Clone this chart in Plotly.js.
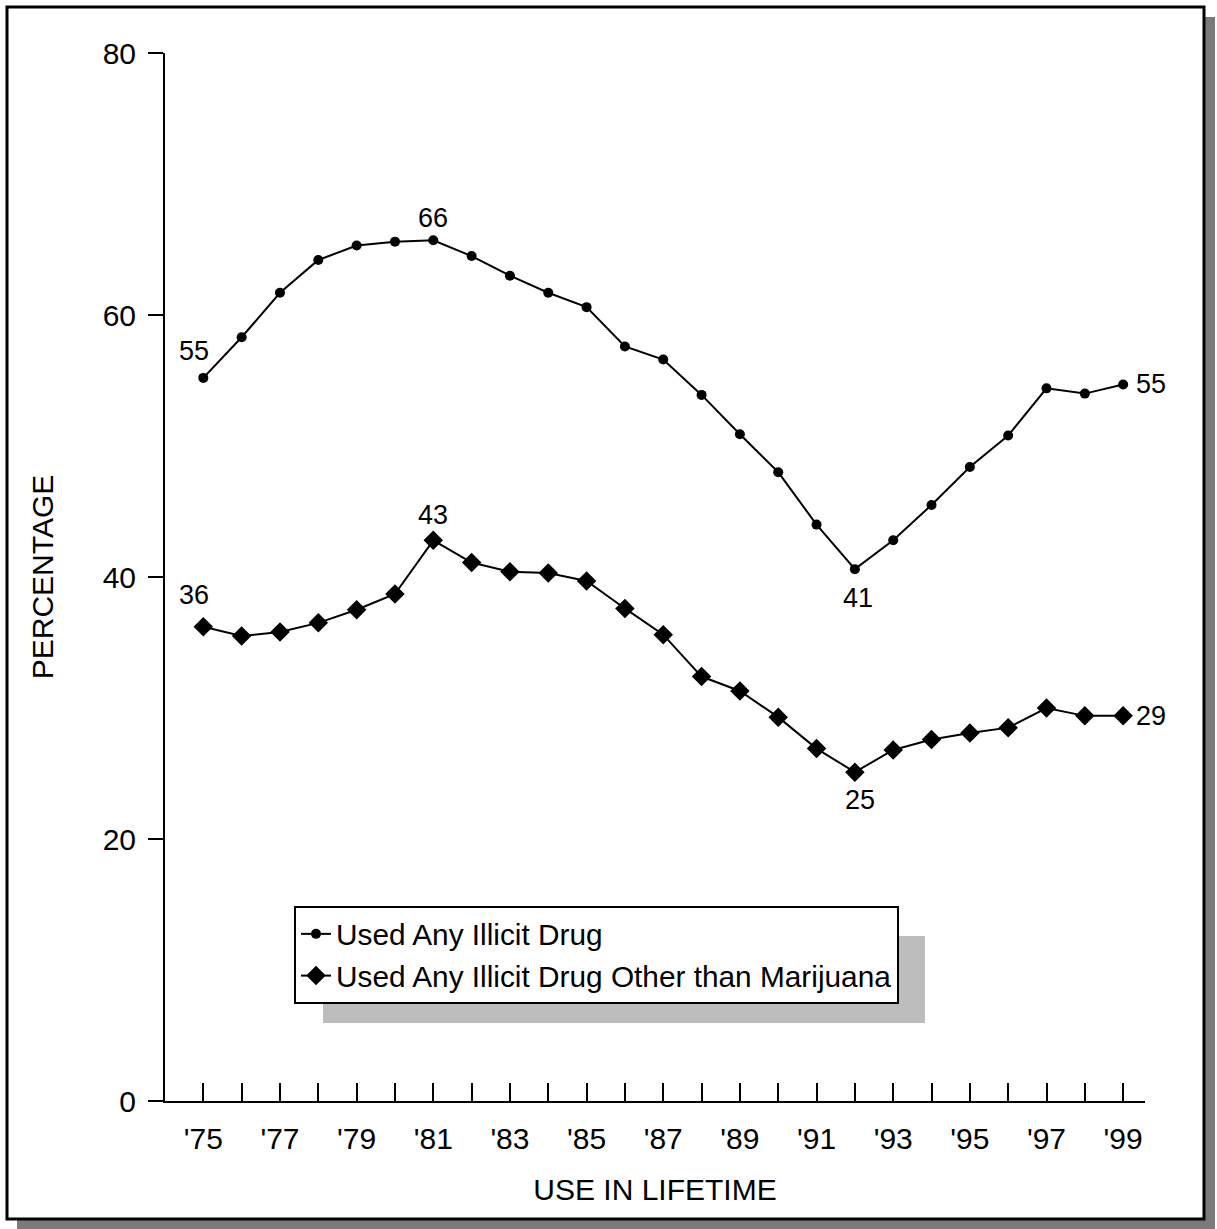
<!DOCTYPE html>
<html>
<head>
<meta charset="utf-8">
<script src="https://cdn.plot.ly/plotly-3.0.1.min.js"></script>
<style>
  html, body { margin: 0; padding: 0; background: #fff; }
  #chart { width: 1217px; height: 1229px; }
</style>
</head>
<body>
<div id="chart"></div>
<script>
// ---- data ----
const years = [1975,1976,1977,1978,1979,1980,1981,1982,1983,1984,1985,1986,1987,1988,1989,1990,1991,1992,1993,1994,1995,1996,1997,1998,1999];
const anyIllicit = [55.2,58.3,61.7,64.2,65.3,65.6,65.7,64.5,63.0,61.7,60.6,57.6,56.6,53.9,50.9,48.0,44.0,40.6,42.8,45.5,48.4,50.8,54.4,54.0,54.7];
const otherThanMarijuana = [36.2,35.5,35.8,36.5,37.5,38.7,42.8,41.1,40.4,40.3,39.7,37.6,35.6,32.4,31.3,29.3,26.9,25.1,26.8,27.6,28.1,28.5,30.0,29.4,29.4];
const xTickLabels = ["'75","","'77","","'79","","'81","","'83","","'85","","'87","","'89","","'91","","'93","","'95","","'97","","'99"];
const seriesNames = ["Used Any Illicit Drug", "Used Any Illicit Drug Other than Marijuana"];
const xTitle = "USE IN LIFETIME";
const yTitle = "PERCENTAGE";
// labelled points: [series index, point index]
const labelledPoints = [[0,0],[0,6],[0,17],[0,24],[1,0],[1,6],[1,17],[1,24]];

// ---- layout helpers (decoration only) ----
const L = 165, R = 72, T = 53, B = 128, W = 1217, H = 1229;
const pw = W - L - R, ph = H - T - B;
const px = v => (v - L) / pw;
const py = v => (H - B - v) / ph;
const FONT = "Liberation Sans, Arial, Helvetica, sans-serif";

const traces = [
  { x: years, y: anyIllicit, name: seriesNames[0], type: 'scatter', mode: 'lines+markers',
    line: {color: '#000', width: 2}, marker: {symbol: 'circle', size: 10, color: '#000'} },
  { x: years, y: otherThanMarijuana, name: seriesNames[1], type: 'scatter', mode: 'lines+markers',
    line: {color: '#000', width: 2}, marker: {symbol: 'diamond', size: 15, color: '#000'} }
];

const seriesData = [anyIllicit, otherThanMarijuana];
const offsets = {
  '0,0': [-9, 27], '0,6': [0, 22], '0,17': [3, -29], '0,24': [28, 0],
  '1,0': [-9, 32], '1,6': [0, 25], '1,17': [5, -28], '1,24': [28, 0]
};
const annotations = labelledPoints.map(([s, i]) => {
  const o = offsets[s + ',' + i];
  return { x: years[i], y: seriesData[s][i], xref: 'x', yref: 'y',
    text: String(Math.round(seriesData[s][i])), showarrow: false,
    xshift: o[0], yshift: o[1], font: {family: FONT, size: 27, color: '#000'} };
});

const shapes = [
  // outer frame shadow
  { type: 'rect', xref: 'paper', yref: 'paper', x0: px(1205), x1: px(1215), y0: py(1229), y1: py(17),
    fillcolor: '#7a7a7a', line: {width: 0}, layer: 'below' },
  { type: 'rect', xref: 'paper', yref: 'paper', x0: px(17), x1: px(1215), y0: py(1229), y1: py(1220),
    fillcolor: '#7a7a7a', line: {width: 0}, layer: 'below' },
  // outer frame
  { type: 'rect', xref: 'paper', yref: 'paper', x0: px(7), x1: px(1204), y0: py(1219), y1: py(7),
    fillcolor: 'rgba(0,0,0,0)', line: {color: '#000', width: 3}, layer: 'below' },
  // legend shadow
  { type: 'rect', xref: 'paper', yref: 'paper', x0: px(323), x1: px(925), y0: py(1023), y1: py(936),
    fillcolor: '#bdbdbd', line: {width: 0}, layer: 'below' }
];

const layout = {
  width: W, height: H,
  margin: {l: L, r: R, t: T, b: B, pad: 0},
  paper_bgcolor: '#fff', plot_bgcolor: 'rgba(0,0,0,0)',
  font: {family: FONT, size: 29, color: '#000'},
  showlegend: true,
  legend: { x: px(294), y: py(906), xanchor: 'left', yanchor: 'top',
    bgcolor: '#fff', bordercolor: '#000', borderwidth: 2,
    font: {family: FONT, size: 29.8, color: '#000'}, itemwidth: 30, tracegroupgap: 0 },
  xaxis: {
    range: [1974.0, 1999.57], showgrid: false, zeroline: false,
    showline: true, linecolor: '#000', linewidth: 2,
    ticks: 'inside', ticklen: 18, tickwidth: 2, tickcolor: '#000',
    tickmode: 'array', tickvals: years, ticktext: xTickLabels,
    ticklabelstandoff: 10,
    tickfont: {family: FONT, size: 30, color: '#000'},
    title: {text: xTitle, font: {family: FONT, size: 30, color: '#000'}, standoff: 25}
  },
  yaxis: {
    range: [0, 80], showgrid: false, zeroline: false,
    showline: true, linecolor: '#000', linewidth: 2,
    ticks: 'outside', ticklen: 15, tickwidth: 2, tickcolor: '#000',
    tickmode: 'array', tickvals: [0,20,40,60,80], ticktext: ['0','20','40','60','80'],
    ticklabelstandoff: 6,
    tickfont: {family: FONT, size: 30, color: '#000'},
    title: {text: yTitle, font: {family: FONT, size: 30, color: '#000'}, standoff: 40}
  },
  annotations: annotations,
  shapes: shapes
};

Plotly.newPlot('chart', traces, layout, {displayModeBar: false, staticPlot: true});
</script>
</body>
</html>
